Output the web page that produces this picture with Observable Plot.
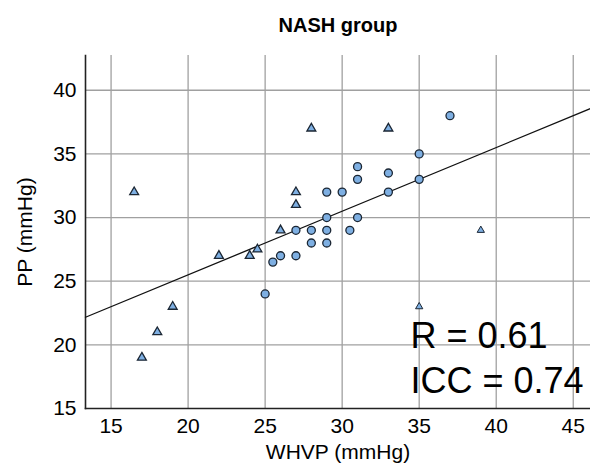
<!DOCTYPE html>
<html>
<head>
<meta charset="utf-8">
<script src="https://cdn.jsdelivr.net/npm/d3@7"></script>
<script src="https://cdn.jsdelivr.net/npm/@observablehq/plot@0.6"></script>
<style>
  html, body { margin: 0; padding: 0; background: #fff; }
</style>
</head>
<body>
<div id="chart"></div>
<script>
// ---- data ----
const title = "NASH group";
const xLabel = "WHVP (mmHg)";
const yLabel = "PP (mmHg)";
const xTicks = [15, 20, 25, 30, 35, 40, 45];
const yTicks = [15, 20, 25, 30, 35, 40];

// circles: WHVP, PP
const circleX = [25, 25.5, 26, 27, 27, 28, 29, 30.5, 28, 29, 29, 31, 29, 30, 33, 31, 35, 33, 31, 35, 37];
const circleY = [24, 26.5, 27, 27, 29, 29, 29, 29, 28, 28, 30, 30, 32, 32, 32, 33, 33, 33.5, 34, 35, 38];

// triangles: WHVP, PP
const triX = [16.5, 17, 18, 19, 22, 24, 24.5, 26, 27, 27, 28, 33];
const triY = [32, 19, 21, 23, 27, 27, 27.5, 29, 31, 32, 37, 37];

// small triangles
const smallTriX = [35, 39];
const smallTriY = [23, 29];

// regression line end points
const fitX = [13.34, 46.12];
const fitY = [22.17, 38.56];

const stats = ["R = 0.61\nICC = 0.74"];

// ---- build tables ----
const circles = circleX.map((x, i) => ({x, y: circleY[i]}));
const triangles = triX.map((x, i) => ({x, y: triY[i]}));
const smallTriangles = smallTriX.map((x, i) => ({x, y: smallTriY[i]}));
const fit = fitX.map((x, i) => ({x, y: fitY[i]}));

const fillC = "#7eafe2";
const strokeC = "#1b2633";
const gridC = "#a0a0a0";

const chart = Plot.plot({
  width: 590,
  height: 469,
  marginLeft: 85,
  marginRight: 0,
  marginTop: 55,
  marginBottom: 61,
  style: {
    fontFamily: "'Liberation Sans', Arial, sans-serif",
    fontSize: "21px",
    background: "#fff",
    color: "#000"
  },
  x: {domain: [13.34, 46.12]},
  y: {domain: [15, 42.73]},
  marks: [
    Plot.gridX(xTicks, {stroke: gridC, strokeOpacity: 1, strokeWidth: 1.3}),
    Plot.gridY(yTicks.slice(1), {stroke: gridC, strokeOpacity: 1, strokeWidth: 1.3}),
    Plot.axisX(xTicks, {tickSize: 0, tickPadding: 10, fontSize: 21, label: xLabel, labelAnchor: "center", labelArrow: "none", labelOffset: 50}),
    Plot.axisY(yTicks, {tickSize: 0, tickPadding: 9, fontSize: 21, label: yLabel, labelAnchor: "center", labelArrow: "none", labelOffset: 68}),
    Plot.frame({anchor: "left", stroke: "#222", strokeWidth: 1.6}),
    Plot.frame({anchor: "bottom", stroke: "#222", strokeWidth: 1.6}),
    Plot.line(fit, {x: "x", y: "y", stroke: "#111", strokeWidth: 1.3}),
    Plot.dot(circles, {x: "x", y: "y", r: 4, fill: fillC, stroke: strokeC, strokeWidth: 1.3}),
    Plot.dot(triangles, {x: "x", y: "y", symbol: "triangle", r: 3.3, fill: fillC, stroke: strokeC, strokeWidth: 1.3}),
    Plot.dot(smallTriangles, {x: "x", y: "y", symbol: "triangle", r: 2.7, fill: fillC, stroke: strokeC, strokeWidth: 1}),
    Plot.text(stats, {text: d => d, frameAnchor: "bottom-left", textAnchor: "start", lineAnchor: "bottom", lineHeight: 1.25, dx: 325, dy: -16, fontSize: 36, fill: "#000"}),
    Plot.text([title], {text: d => d, frameAnchor: "top", dy: -37.5, fontSize: 20, fontWeight: "bold", fill: "#000"})
  ]
});
document.getElementById("chart").appendChild(chart);
</script>
</body>
</html>
